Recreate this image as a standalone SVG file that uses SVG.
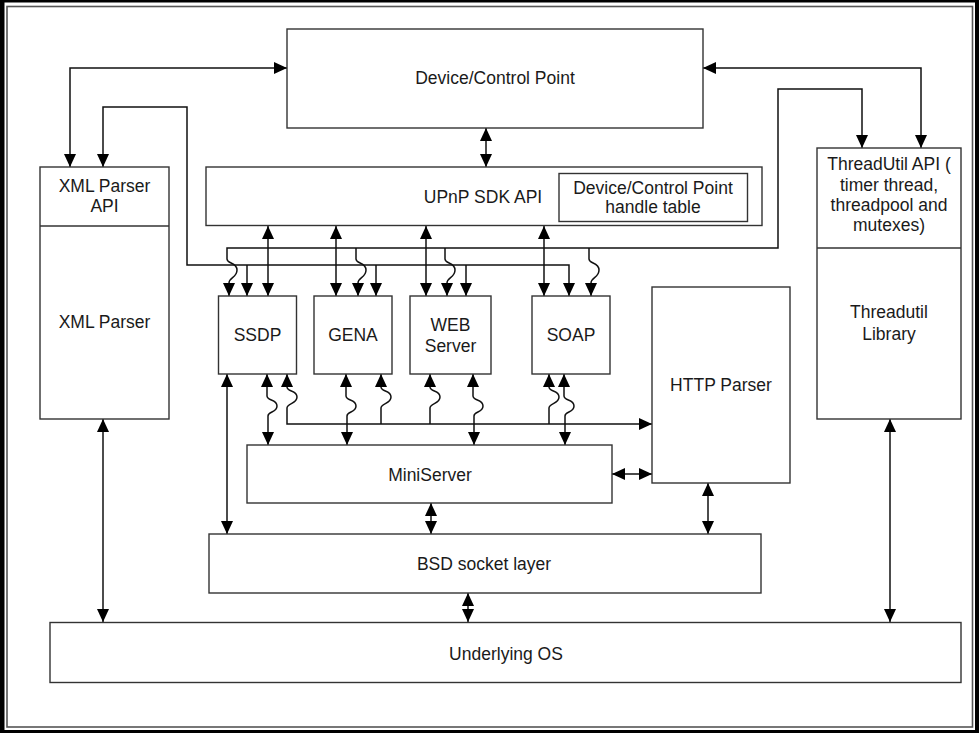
<svg xmlns="http://www.w3.org/2000/svg" width="979" height="733" viewBox="0 0 979 733">
<style>
.box{fill:#fff;stroke:#333;stroke-width:1.4}
.ln{fill:none;stroke:#111;stroke-width:1.5}
.da{marker-start:url(#ah);marker-end:url(#ah)}
.ea{marker-end:url(#ah)}
.sa{marker-start:url(#ah)}
text{font-family:"Liberation Sans",Arial,sans-serif;font-size:17.5px;fill:#1a1a1a;text-anchor:middle}
</style>
<defs>
<marker id="ah" viewBox="0 0 13 12" refX="13" refY="6" markerWidth="13" markerHeight="12" markerUnits="userSpaceOnUse" orient="auto-start-reverse">
<path d="M0,0 L13,6 L0,12 z" fill="#000"/>
</marker>
</defs>
<g id="frame">
<rect x="0" y="0" width="979" height="733" fill="#000"/>
<rect x="4.5" y="2.5" width="970.5" height="727.5" fill="#fff"/>
<rect x="7" y="6.5" width="965.5" height="720.5" fill="none" stroke="#555" stroke-width="1.6"/>
</g>
<g id="connectors">
<path class="ln da" d="M486,128 V167"/>
<path class="ln da" d="M70,167 V68 H287"/>
<path class="ln sa ea" d="M103,167 V107 H187 V265 H569 V296"/>
<path class="ln ea" d="M247,265 V296"/>
<path class="ln ea" d="M376,265 V296"/>
<path class="ln ea" d="M466,265 V296"/>
<path class="ln da" d="M921,148 V68 H703"/>
<path class="ln sa ea" d="M862,148 V89 H778 V248 H227 V259 C227,264 237,262 237,270 C237,278 229,277 229,283 V296"/>
<path class="ln ea" d="M356,248 V259 C356,264 366,262 366,270 C366,278 358,277 358,283 V296"/>
<path class="ln ea" d="M445,248 V259 C445,264 455,262 455,270 C455,278 447,277 447,283 V296"/>
<path class="ln ea" d="M589,248 V259 C589,264 599,262 599,270 C599,278 591,277 591,283 V296"/>
<path class="ln da" d="M268,226 V296"/>
<path class="ln da" d="M336,226 V296"/>
<path class="ln da" d="M426,226 V296"/>
<path class="ln da" d="M544,226 V296"/>
<path class="ln da" d="M267,374 V396 C267,401 277,399 277,406 C277,413 268,411 268,416 V445"/>
<path class="ln da" d="M346,374 V396 C346,401 356,399 356,406 C356,413 347,411 347,416 V445"/>
<path class="ln da" d="M473,374 V396 C473,401 483,399 483,406 C483,413 474,411 474,416 V445"/>
<path class="ln da" d="M564,374 V396 C564,401 574,399 574,406 C574,413 565,411 565,416 V445"/>
<path class="ln sa ea" d="M652,424 H287 V408 C287,403 297,404 297,397 C297,390 287,392 287,387 V374"/>
<path class="ln ea" d="M381,424 V408 C381,403 391,404 391,397 C391,390 381,392 381,387 V374"/>
<path class="ln ea" d="M430,424 V408 C430,403 440,404 440,397 C440,390 430,392 430,387 V374"/>
<path class="ln ea" d="M549,424 V408 C549,403 559,404 559,397 C559,390 549,392 549,387 V374"/>
<path class="ln da" d="M227,374 V534"/>
<path class="ln da" d="M103,419 V622"/>
<path class="ln da" d="M890,419 V622"/>
<path class="ln da" d="M431,503 V534"/>
<path class="ln da" d="M468,593 V622"/>
<path class="ln da" d="M612,474 H652"/>
<path class="ln da" d="M708,483 V534"/>
</g>
<g id="device-control-point">
<rect class="box" x="287" y="29" width="416" height="99"/>
<text x="495" y="84">Device/Control Point</text>
</g>
<g id="upnp-sdk-api">
<rect class="box" x="206" y="167" width="556" height="58.5"/>
<text x="483" y="203">UPnP SDK API</text>
</g>
<g id="handle-table">
<rect class="box" x="559" y="173.5" width="188.5" height="48"/>
<text x="653" y="194">Device/Control Point</text>
<text x="653" y="213">handle table</text>
</g>
<g id="xml-parser">
<rect class="box" x="40" y="167" width="129" height="252"/>
<line x1="40" y1="226" x2="169" y2="226" stroke="#333" stroke-width="1.4"/>
<text x="104.5" y="192">XML Parser</text>
<text x="104.5" y="212">API</text>
<text x="104.5" y="328">XML Parser</text>
</g>
<g id="threadutil">
<rect class="box" x="817" y="148" width="144" height="271"/>
<line x1="817" y1="248" x2="961" y2="248" stroke="#333" stroke-width="1.4"/>
<text x="889" y="170">ThreadUtil API (</text>
<text x="889" y="191">timer thread,</text>
<text x="889" y="211">threadpool and</text>
<text x="889" y="231">mutexes)</text>
<text x="889" y="318">Threadutil</text>
<text x="889" y="340">Library</text>
</g>
<g id="ssdp">
<rect class="box" x="218.5" y="296" width="78" height="78"/>
<text x="257.5" y="341">SSDP</text>
</g>
<g id="gena">
<rect class="box" x="314" y="296" width="78" height="78"/>
<text x="353" y="341">GENA</text>
</g>
<g id="web-server">
<rect class="box" x="410" y="296" width="81" height="78"/>
<text x="450.5" y="331">WEB</text>
<text x="450.5" y="352">Server</text>
</g>
<g id="soap">
<rect class="box" x="532" y="296" width="78" height="78"/>
<text x="571" y="341">SOAP</text>
</g>
<g id="http-parser">
<rect class="box" x="652" y="287" width="138" height="196"/>
<text x="721" y="391">HTTP Parser</text>
</g>
<g id="miniserver">
<rect class="box" x="247" y="445" width="365" height="58"/>
<text x="430" y="481">MiniServer</text>
</g>
<g id="bsd-socket-layer">
<rect class="box" x="209" y="534" width="552" height="59"/>
<text x="484" y="570">BSD socket layer</text>
</g>
<g id="underlying-os">
<rect class="box" x="50" y="622.5" width="911" height="60"/>
<text x="506" y="660">Underlying OS</text>
</g>
</svg>
